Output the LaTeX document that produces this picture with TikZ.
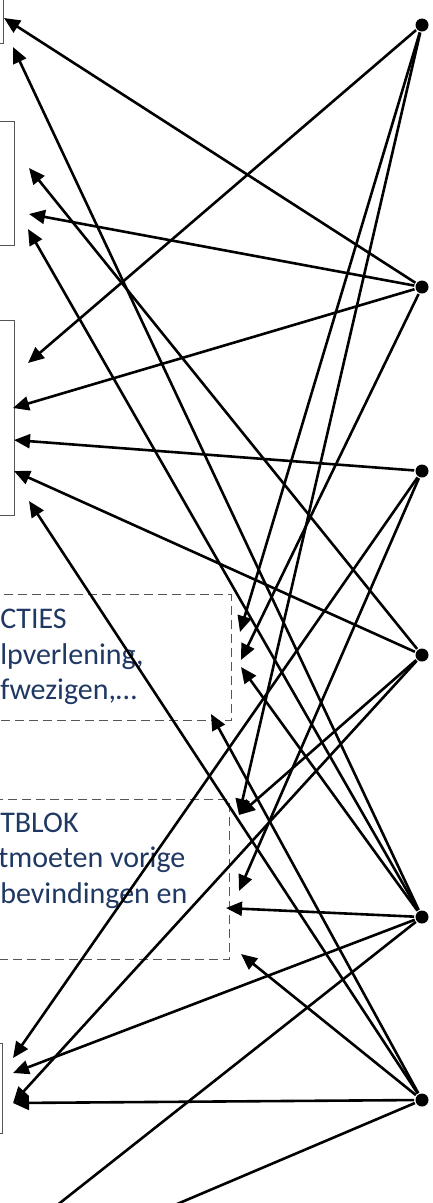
\documentclass[tikz,border=0pt]{standalone}
\usepackage{fontspec}
\setmainfont{Carlito}
\usetikzlibrary{arrows.meta}
\definecolor{navy}{RGB}{31,56,100}
\definecolor{frame}{RGB}{85,85,85}
\begin{document}
\begin{tikzpicture}[x=1pt,y=-1pt,
                    >={Triangle[length=16pt,width=14pt]},
                    line width=2.6pt,
                    dot/.style={circle,fill,inner sep=0pt,minimum size=13pt},
                    plain box/.style={draw=frame,line width=1.1pt,inner sep=0pt},
                    dash box/.style={draw=frame,line width=1.4pt,dash pattern=on 9pt off 5pt,inner sep=0pt},
                    box text/.style={text=navy,font=\fontsize{30}{37}\selectfont,inner sep=0pt,anchor=base west}]
  \useasboundingbox (0,0) rectangle (433,1203);
  \clip (0,0) rectangle (433,1203);

  % boxes on the left, only partly in view
  \node[plain box,minimum width=150pt,minimum height=100pt,anchor=south east] (box1) at (4,44) {};
  \node[plain box,minimum width=150pt,minimum height=124pt,anchor=north east] (box2) at (15,121) {};
  \node[plain box,minimum width=150pt,minimum height=195pt,anchor=north east] (box3) at (15,320) {};
  \node[dash box,minimum width=300pt,minimum height=126pt,anchor=north east] (box4) at (232,594) {};
  \node[dash box,minimum width=300pt,minimum height=160pt,anchor=north east] (box5) at (230,799) {};
  \node[plain box,minimum width=150pt,minimum height=90pt,anchor=north east] (box6) at (3,1043) {};

  \node[box text] (acties1) at (-1,628) {CTIES};
  \node[box text] (acties2) at (-1,664) {lpverlening,};
  \node[box text] (acties3) at (-1,699) {fwezigen,…};
  \node[box text] (blok1) at (-1,832) {TBLOK};
  \node[box text] (blok2) at (-3,867) {tmoeten vorige};
  \node[box text] (blok3) at (-1,903) {bevindingen en};

  % column of dots
  \node[dot] (d1) at (422,25) {};
  \node[dot] (d2) [below of=d1,node distance=262pt] {};
  \node[dot] (d3) [below of=d2,node distance=184pt] {};
  \node[dot] (d4) [below of=d3,node distance=184pt] {};
  \node[dot] (d5) [below of=d4,node distance=262pt] {};
  \node[dot] (d6) [below of=d5,node distance=183pt] {};

  % where the arrows land
  \coordinate (p1) at (4,18);
  \coordinate (p2) at (13,47);
  \coordinate (p3) at (29,168);
  \coordinate (p4) at (29,214);
  \coordinate (p5) at (28,229);
  \coordinate (p6) at (28,363);
  \coordinate (p7) at (13,408);
  \coordinate (p8) at (14,440);
  \coordinate (p9) at (14,471);
  \coordinate (p10) at (29,501);
  \coordinate (p11) at (240,632);
  \coordinate (p12) at (241,660);
  \coordinate (p13) at (241,667);
  \coordinate (p14) at (211,714);
  \coordinate (p15) at (239,815);
  \coordinate (p16) at (239,891);
  \coordinate (p17) at (226,908);
  \coordinate (p18) at (241,954);
  \coordinate (p19) at (13,1058);
  \coordinate (p20) at (13,1073);
  \coordinate (p21) at (13,1103);
  \coordinate (out1) at (51,1210);
  \coordinate (out2) at (163,1210);

  \path[->]
    (d1) edge (p6)
         edge (p11)
         edge (p15)
    (d2) edge (p1)
         edge (p4)
         edge (p7)
         edge (p12)
    (d3) edge (p8)
         edge (p16)
         edge (p19)
    (d4) edge (p3)
         edge (p9)
         edge (p15)
         edge (p21)
    (d5) edge (p2)
         edge (p5)
         edge (p13)
         edge (p17)
         edge (p20)
    (d6) edge (p10)
         edge (p14)
         edge (p18)
         edge (p21);
  \path (d5) edge (out1)
        (d6) edge (out2);
\end{tikzpicture}
\end{document}
